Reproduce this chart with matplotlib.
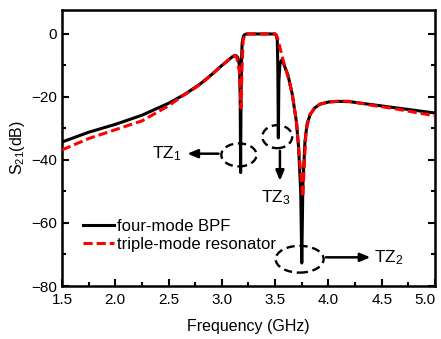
import matplotlib
matplotlib.use("Agg")
import matplotlib.pyplot as plt
from matplotlib.patches import Ellipse

plt.rcParams['font.family'] = ['Liberation Sans', 'DejaVu Sans']
plt.rcParams['mathtext.default'] = 'regular'

# four-mode BPF (black solid)
freq_bpf = [1.5, 1.75, 2.0, 2.25, 2.5, 2.65, 2.8, 2.9, 3.0, 3.05, 3.1, 3.13, 3.15,
            3.165, 3.172, 3.176, 3.18, 3.185, 3.19, 3.20, 3.21, 3.23, 3.5, 3.51,
            3.52, 3.525, 3.53, 3.535, 3.545, 3.56, 3.58, 3.62, 3.66, 3.70, 3.72,
            3.74, 3.75, 3.76, 3.78, 3.80, 3.83, 3.87, 3.92, 4.0, 4.1, 4.2, 4.4,
            4.6, 4.8, 5.0]
s21_bpf = [-34.3, -31.2, -28.7, -25.8, -22.0, -19.2, -15.8, -13.0, -10.0, -8.6, -7.2,
           -6.8, -7.5, -10.0, -20.0, -44.0, -20.0, -8.0, -3.0, -1.0, -0.3, 0.0, 0.0,
           -0.3, -2.0, -10.0, -33.0, -15.0, -9.5, -8.3, -9.5, -13.0, -19.0, -28.0,
           -36.0, -50.0, -72.7, -48.0, -34.0, -28.5, -25.5, -23.5, -22.3, -21.6,
           -21.4, -21.5, -22.4, -23.3, -24.2, -25.1]

# triple-mode resonator (red dashed)
freq_res = [1.5, 1.75, 2.0, 2.25, 2.5, 2.63, 2.8, 2.9, 3.0, 3.05, 3.1, 3.12, 3.14,
            3.165, 3.18, 3.19, 3.20, 3.22, 3.5, 3.52, 3.55, 3.58, 3.62, 3.66, 3.70,
            3.73, 3.76, 3.775, 3.79, 3.82, 3.87, 3.92, 4.0, 4.1, 4.2, 4.4, 4.6,
            4.8, 5.0]
s21_res = [-36.8, -33.2, -30.4, -27.6, -22.8, -19.7, -16.0, -13.1, -10.0, -8.6, -7.2,
           -6.8, -7.5, -12.0, -23.5, -10.0, -2.0, 0.0, 0.0, -1.0, -5.0, -9.0, -13.5,
           -19.0, -28.0, -40.0, -51.7, -40.0, -31.0, -26.0, -23.5, -22.3, -21.6,
           -21.3, -21.4, -22.6, -23.6, -24.8, -26.0]

xticks = [1.5, 2.0, 2.5, 3.0, 3.5, 4.0, 4.5, 5.0]
yticks = [0, -20, -40, -60, -80]

fig = plt.figure(figsize=(4.41, 3.39), dpi=100)
ax = fig.add_axes([62/441, 1-286/339, 373/441, 276/339])

ax.plot(freq_bpf, s21_bpf, color='black', lw=2.2, label='four-mode BPF', zorder=3)
ax.plot(freq_res, s21_res, color='red', lw=2.2, ls=(0, (3, 1.3)),
        label='triple-mode resonator', zorder=4)

ax.set_xlim(1.5, 5.0)
ax.set_ylim(-80, 7.6)
ax.set_xticks(xticks)
ax.set_xticklabels([f"{t:.1f}" for t in xticks])
ax.get_xticklabels()[-1].set_horizontalalignment('right')
ax.set_xticks([1.75, 2.25, 2.75, 3.25, 3.75, 4.25, 4.75], minor=True)
ax.set_yticks(yticks)
ax.set_yticks([-10, -30, -50, -70], minor=True)
ax.tick_params(axis='both', which='major', direction='in', length=5, width=1.5,
               labelsize=11, right=True, top=False)
ax.tick_params(axis='both', which='minor', direction='in', length=3, width=1.5,
               right=True, top=False)
ax.tick_params(axis='x', pad=5)
for s in ax.spines.values():
    s.set_linewidth(1.8)

ax.set_xlabel('Frequency (GHz)', fontsize=11.5, labelpad=9)
ax.set_ylabel('S$_{21}$(dB)', fontsize=11.5, labelpad=3)

leg = ax.legend(loc='lower left', bbox_to_anchor=(0.024, 0.082), frameon=False,
                fontsize=12, handlelength=1.9, handletextpad=0.15, labelspacing=0.15,
                borderpad=0.2)

# annotations
ell_kw = dict(fill=False, ls=(0, (3.5, 2)), lw=1.7, ec='black', zorder=5)
ax.add_patch(Ellipse((3.16, -38.4), 0.33, 7.3, **ell_kw))
ax.add_patch(Ellipse((3.52, -32.6), 0.28, 7.3, **ell_kw))
ax.add_patch(Ellipse((3.73, -71.5), 0.45, 8.5, **ell_kw))

arr = dict(arrowstyle='-|>,head_length=0.6,head_width=0.25', color='black', lw=1.8)
ax.annotate('', xy=(2.65, -38.0), xytext=(2.995, -38.0), arrowprops=arr)
ax.annotate('', xy=(3.545, -47.5), xytext=(3.545, -36.2), arrowprops=arr)
ax.annotate('', xy=(4.42, -70.9), xytext=(3.95, -70.9), arrowprops=arr)

ax.text(2.62, -38.0, 'TZ$_1$', fontsize=12.5, ha='right', va='center')
ax.text(3.51, -52.0, 'TZ$_3$', fontsize=12.5, ha='center', va='center')
ax.text(4.43, -71.0, 'TZ$_2$', fontsize=12.5, ha='left', va='center')

fig.savefig('out.png', dpi=100)
